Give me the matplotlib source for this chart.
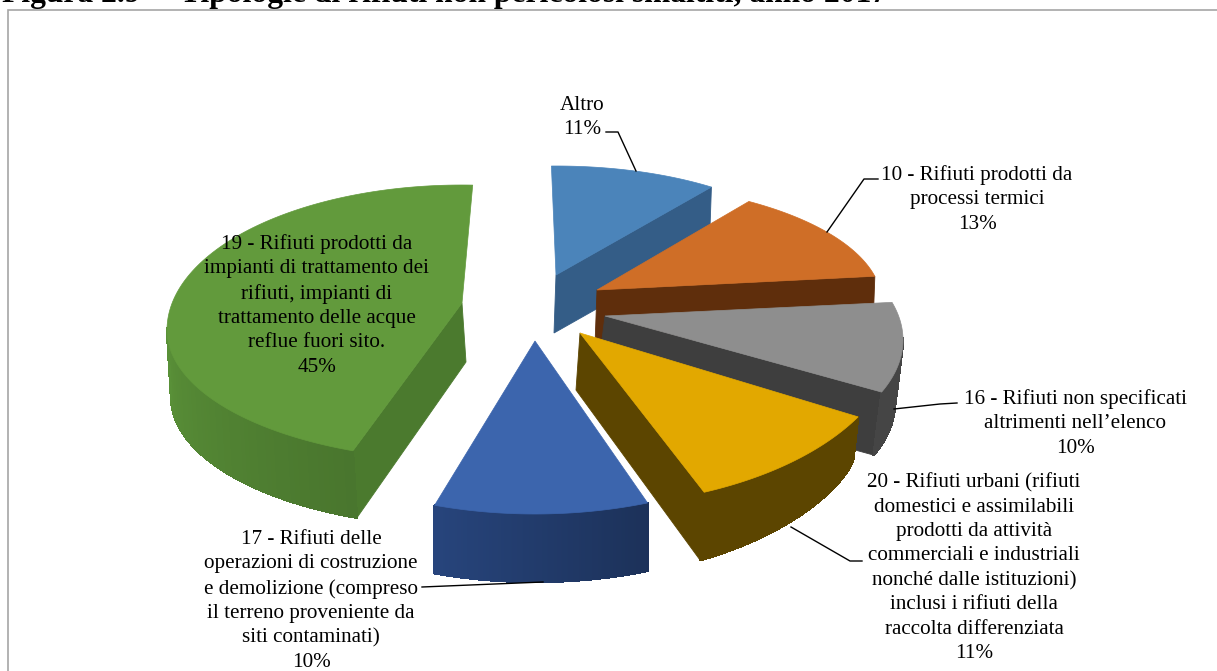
import numpy as np
import matplotlib
matplotlib.use('Agg')
import matplotlib.pyplot as plt
from matplotlib.patches import Polygon, Rectangle

#Chart data
shares = [11, 13, 10, 11, 10, 45]
names = ['Altro',
         '10 - Rifiuti prodotti da\nprocessi termici',
         '16 - Rifiuti non specificati\naltrimenti nell\u2019elenco',
         '20 - Rifiuti urbani (rifiuti\ndomestici e assimilabili\nprodotti da attivit\u00e0\ncommerciali e industriali\nnonch\u00e9 dalle istituzioni)\ninclusi i rifiuti della\nraccolta differenziata',
         '17 - Rifiuti delle\noperazioni di costruzione\ne demolizione (compreso\nil terreno proveniente da\nsiti contaminati)',
         '19 - Rifiuti prodotti da\nimpianti di trattamento dei\nrifiuti, impianti di\ntrattamento delle acque\nreflue fuori sito.']
top_colors = ['#4b84ba', '#cf6e27', '#8e8e8e', '#e2a800', '#3c65ad', '#629a3c']
cut_colors = ['#345d87', '#5f2e0c', '#3e3e3e', '#5c4500', '#243e70', '#4b7a2e']
wall_colors = ['#345d87', '#5f2e0c', '#454545', '#5c4500', '#213a69', '#4d7c30']
#wall shading at the start and at the end of each slice
wall_shade = [(1, 1), (1, 1), (1, 1), (1, 1), (0.85, 1.18), (0.95, 1.45)]

#Slice geometry in pixels, the exploded 3D look has every slice on its own ellipse
#cx, cy, rx, ry back, ry front, apex x, apex y, start angle, angle stretch, depth start, depth end, depth apex, shift x, visible cut
layout = [
    (556, 275, 263, 109, 109, 556, 275, 91.0, 0.94, 58, 58, 58, -2, 'end'),
    (597, 303, 285, 120, 120, 597, 290, 57.8, 0.96, 55, 55, 55, -2, 'end'),
    (605, 340, 298, 140, 140, 605, 316, 15.6, 1.04, 63, 63, 63, -8, 'end'),
    (580, 333, 318, 173, 173, 580, 333, -29.0, 0.96, 36, 68, 57, -4, 'end'),
    (535, 341, 320, 173, 173, 535, 341, -69.4, 1.08, 68, 68, 68, 0, None),
    (462, 330, 295, 145, 130, 462, 303, -111.7, 0.99, 67, 67, 59, 4, 'start'),
]
#back to front
draw_order = [0, 1, 2, 3, 5, 4]

#Label positions (center x, top y) and leader lines
label_pos = [(582, 96), (977, 165), (1075, 389), (974, 473), (311, 530), (317, 234)]
leaders = [
    [(606, 132), (618, 132), (636, 171)],
    [(878, 179), (864, 179), (827, 232)],
    [(957, 403), (940, 404), (894, 409)],
    [(862, 561), (850, 561), (791, 527)],
    [(422, 587), (543, 582)],
    None,
]


def darken(color, f):
    rgb = np.array(matplotlib.colors.to_rgb(color))
    return tuple(np.clip(rgb * f, 0, 1))


def draw_slice(ax, idx, z):
    cx, cy, rx, ry, ry_front, ax_, ay, t1, stretch, d1, d2, d_apex, dx, cut = layout[idx]
    t2 = t1 - shares[idx] * 3.6 * stretch
    t = np.radians(np.linspace(t1, t2, 140))
    x = cx + rx * np.cos(t)
    y = cy - np.where(np.sin(t) > 0, ry, ry_front) * np.sin(t)
    d = d1 + (d2 - d1) * np.linspace(0, 1, len(t)) ** 0.35
    #cut face
    if cut is not None:
        k = -1 if cut == 'end' else 0
        ax.add_patch(Polygon([(ax_, ay), (x[k], y[k]), (x[k] + dx, y[k] + d[k]), (ax_ + dx, ay + d_apex)],
                             closed=True, fc=cut_colors[idx], ec=cut_colors[idx], lw=0.6, zorder=z))
    #outer wall, only the part that faces the viewer, in small strips for the shading
    front = np.where(np.sin(t) < 0.02)[0]
    if len(front) > 1:
        s0, s1 = wall_shade[idx]
        for a, b in zip(front[:-1], front[1:]):
            c = darken(wall_colors[idx], s0 + (s1 - s0) * a / (len(t) - 1.0))
            ax.add_patch(Polygon([(x[a], y[a]), (x[b], y[b]), (x[b] + dx, y[b] + d[b]), (x[a] + dx, y[a] + d[a])],
                                 closed=True, fc=c, ec=c, lw=1.0, antialiased=False, zorder=z))
    #top face
    pts = [(ax_, ay)] + list(zip(x, y))
    ax.add_patch(Polygon(pts, closed=True, fc=top_colors[idx], ec=top_colors[idx], lw=0.5, zorder=z + 0.5))


fig = plt.figure(figsize=(12.17, 6.71), dpi=100)
ax = fig.add_axes([0, 0, 1, 1])
ax.set_xlim(0, 1217)
ax.set_ylim(671, 0)
ax.axis('off')
serif = 'Liberation Serif'

#Frame and clipped caption above it
ax.add_patch(Rectangle((7.5, 9.5), 1300, 800, fc='white', ec='#a6a6a6', lw=1.2, zorder=0))
ax.text(2, 2, 'Figura 2.9', family=serif, weight='bold', fontsize=22.7, va='baseline', ha='left', zorder=3)
ax.text(180, 2, 'Tipologie di rifiuti non pericolosi smaltiti, anno 2017', family=serif, weight='bold',
        fontsize=22.7, va='baseline', ha='left', zorder=3)

for n, i in enumerate(draw_order):
    draw_slice(ax, i, 1 + n)

for i in range(len(shares)):
    tx, ty = label_pos[i]
    ax.text(tx, ty, names[i] + '\n' + str(shares[i]) + '%', family=serif, fontsize=15.2, color='black',
            ha='center', va='top', linespacing=1.38, zorder=20)
    if leaders[i] is not None:
        xs, ys = zip(*leaders[i])
        ax.plot(xs, ys, color='black', lw=1.0, zorder=19)

fig.savefig('out.png', dpi=100)
